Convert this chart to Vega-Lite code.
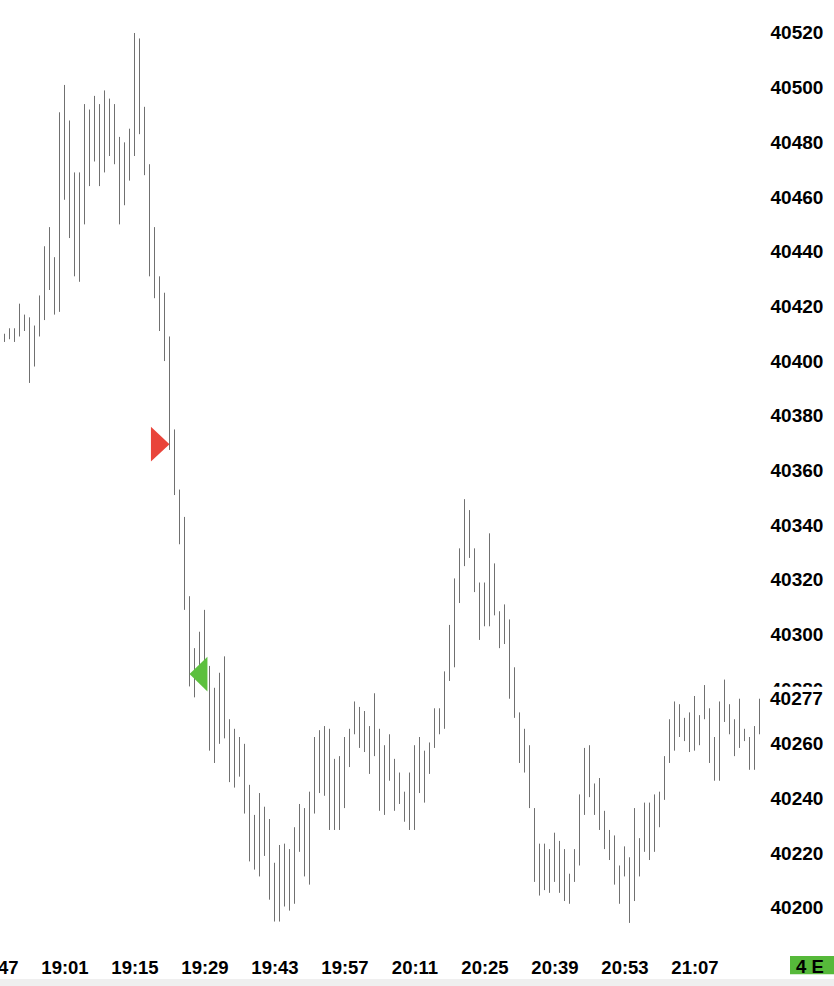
{
  "$schema": "https://vega.github.io/schema/vega-lite/v6.json",
  "width": 765,
  "height": 940,
  "autosize": "none",
  "padding": {"left": 0, "top": 0, "right": 69, "bottom": 46},
  "background": "#ffffff",
  "config": {
    "view": {"stroke": null},
    "axis": {"grid": false, "domain": false, "ticks": false, "tickSize": 0, "labelFont": "Liberation Sans", "labelFontWeight": "bold", "labelColor": "#000000", "zindex": 0}
  },
  "datasets": {
    "bars": [
      {"t":"18:49","l":40407,"h":40410},{"t":"18:50","l":40408,"h":40412},{"t":"18:51","l":40407,"h":40412},{"t":"18:52","l":40409,"h":40421},
      {"t":"18:53","l":40411,"h":40417},{"t":"18:54","l":40392,"h":40416},{"t":"18:55","l":40398,"h":40413},{"t":"18:56","l":40409,"h":40424},
      {"t":"18:57","l":40415,"h":40442},{"t":"18:58","l":40426,"h":40449},{"t":"18:59","l":40417,"h":40438},{"t":"19:00","l":40418,"h":40491},
      {"t":"19:01","l":40459,"h":40501},{"t":"19:02","l":40445,"h":40488},{"t":"19:03","l":40431,"h":40469},{"t":"19:04","l":40429,"h":40469},
      {"t":"19:05","l":40450,"h":40494},{"t":"19:06","l":40464,"h":40492},{"t":"19:07","l":40473,"h":40497},{"t":"19:08","l":40464,"h":40494},
      {"t":"19:09","l":40469,"h":40499},{"t":"19:10","l":40475,"h":40496},{"t":"19:11","l":40472,"h":40494},{"t":"19:12","l":40450,"h":40482},
      {"t":"19:13","l":40457,"h":40480},{"t":"19:14","l":40466,"h":40485},{"t":"19:15","l":40475,"h":40520},{"t":"19:16","l":40483,"h":40518},
      {"t":"19:17","l":40468,"h":40493},{"t":"19:18","l":40431,"h":40472},{"t":"19:19","l":40423,"h":40449},{"t":"19:20","l":40411,"h":40431},
      {"t":"19:21","l":40400,"h":40425},{"t":"19:22","l":40367.5,"h":40409},{"t":"19:23","l":40351,"h":40375},{"t":"19:24","l":40333,"h":40353},
      {"t":"19:25","l":40309,"h":40343},{"t":"19:26","l":40281,"h":40314},{"t":"19:27","l":40277,"h":40295},{"t":"19:28","l":40283,"h":40301},
      {"t":"19:29","l":40281,"h":40309},{"t":"19:30","l":40257.5,"h":40288.5},{"t":"19:31","l":40253,"h":40280.5},{"t":"19:32","l":40260,"h":40286},
      {"t":"19:33","l":40262,"h":40292},{"t":"19:34","l":40246,"h":40269},{"t":"19:35","l":40244,"h":40265.5},{"t":"19:36","l":40248,"h":40262.5},
      {"t":"19:37","l":40234.5,"h":40260},{"t":"19:38","l":40217,"h":40245},{"t":"19:39","l":40214,"h":40234},{"t":"19:40","l":40211.5,"h":40242},
      {"t":"19:41","l":40219,"h":40237},{"t":"19:42","l":40203,"h":40232.5},{"t":"19:43","l":40195,"h":40216.5},{"t":"19:44","l":40195,"h":40223},
      {"t":"19:45","l":40200.5,"h":40223.5},{"t":"19:46","l":40199,"h":40221.5},{"t":"19:47","l":40201.5,"h":40229.5},{"t":"19:48","l":40220.5,"h":40238},
      {"t":"19:49","l":40211.5,"h":40236.5},{"t":"19:50","l":40208.5,"h":40242.5},{"t":"19:51","l":40234.5,"h":40262.5},{"t":"19:52","l":40242,"h":40265},
      {"t":"19:53","l":40241,"h":40266.5},{"t":"19:54","l":40228.5,"h":40265.5},{"t":"19:55","l":40228.5,"h":40254.5},{"t":"19:56","l":40228.5,"h":40255.5},
      {"t":"19:57","l":40236.5,"h":40262.5},{"t":"19:58","l":40251.5,"h":40265.5},{"t":"19:59","l":40263.5,"h":40275.5},{"t":"20:00","l":40258.5,"h":40273.5},
      {"t":"20:01","l":40257,"h":40272},{"t":"20:02","l":40249,"h":40266.5},{"t":"20:03","l":40255.5,"h":40278.5},{"t":"20:04","l":40235.5,"h":40265.5},
      {"t":"20:05","l":40234,"h":40259.5},{"t":"20:06","l":40246.5,"h":40263.5},{"t":"20:07","l":40235.5,"h":40254.5},{"t":"20:08","l":40238,"h":40249.5},
      {"t":"20:09","l":40231.5,"h":40242.5},{"t":"20:10","l":40228.5,"h":40249.5},{"t":"20:11","l":40228.5,"h":40259.5},{"t":"20:12","l":40242,"h":40262.5},
      {"t":"20:13","l":40238.5,"h":40257.5},{"t":"20:14","l":40249,"h":40260.5},{"t":"20:15","l":40258.5,"h":40273},{"t":"20:16","l":40263.5,"h":40273},
      {"t":"20:17","l":40265.5,"h":40286.5},{"t":"20:18","l":40283,"h":40303.5},{"t":"20:19","l":40288,"h":40320.5},{"t":"20:20","l":40311.5,"h":40331.5},
      {"t":"20:21","l":40325,"h":40349.5},{"t":"20:22","l":40328,"h":40345.5},{"t":"20:23","l":40315.5,"h":40331.5},{"t":"20:24","l":40298,"h":40319},
      {"t":"20:25","l":40303,"h":40319},{"t":"20:26","l":40303,"h":40337},{"t":"20:27","l":40307,"h":40326},{"t":"20:28","l":40295,"h":40308.5},
      {"t":"20:29","l":40296.5,"h":40311},{"t":"20:30","l":40276.5,"h":40305.5},{"t":"20:31","l":40269.5,"h":40288},{"t":"20:32","l":40253,"h":40271.5},
      {"t":"20:33","l":40249.5,"h":40265.5},{"t":"20:34","l":40236.5,"h":40259.5},{"t":"20:35","l":40209.5,"h":40236.5},{"t":"20:36","l":40204.5,"h":40223.5},
      {"t":"20:37","l":40206.5,"h":40223.5},{"t":"20:38","l":40205.5,"h":40221.5},{"t":"20:39","l":40209.5,"h":40227.5},{"t":"20:40","l":40205.5,"h":40224.5},
      {"t":"20:41","l":40202.5,"h":40221.5},{"t":"20:42","l":40201.5,"h":40212.5},{"t":"20:43","l":40209.5,"h":40221.5},{"t":"20:44","l":40215.5,"h":40241.5},
      {"t":"20:45","l":40234,"h":40258.5},{"t":"20:46","l":40240.5,"h":40259.5},{"t":"20:47","l":40234,"h":40245.5},{"t":"20:48","l":40228.5,"h":40247.5},
      {"t":"20:49","l":40221.5,"h":40235.5},{"t":"20:50","l":40217.5,"h":40228.5},{"t":"20:51","l":40208.5,"h":40226.5},{"t":"20:52","l":40201.5,"h":40215.5},
      {"t":"20:53","l":40211.5,"h":40222.5},{"t":"20:54","l":40194.5,"h":40218.5},{"t":"20:55","l":40202.5,"h":40236.5},{"t":"20:56","l":40211.5,"h":40225.5},
      {"t":"20:57","l":40220.5,"h":40238.5},{"t":"20:58","l":40217.5,"h":40238.5},{"t":"20:59","l":40220.5,"h":40241.5},{"t":"21:00","l":40229.5,"h":40242.5},
      {"t":"21:01","l":40239.5,"h":40255.5},{"t":"21:02","l":40253,"h":40269},{"t":"21:03","l":40257.5,"h":40275.5},{"t":"21:04","l":40262.5,"h":40274.5},
      {"t":"21:05","l":40261,"h":40269.5},{"t":"21:06","l":40257,"h":40271.5},{"t":"21:07","l":40257.5,"h":40277.5},{"t":"21:08","l":40259.5,"h":40270.5},
      {"t":"21:09","l":40269,"h":40281.5},{"t":"21:10","l":40253,"h":40273},{"t":"21:11","l":40246.5,"h":40262.5},{"t":"21:12","l":40246.5,"h":40275.5},
      {"t":"21:13","l":40268,"h":40283.5},{"t":"21:14","l":40263.5,"h":40274.5},{"t":"21:15","l":40255.5,"h":40269},{"t":"21:16","l":40258.5,"h":40276.5},
      {"t":"21:17","l":40261,"h":40265.5},{"t":"21:18","l":40250.5,"h":40262.5},{"t":"21:19","l":40250.5,"h":40266.5},{"t":"21:20","l":40263.5,"h":40276.5}
    ]
  },
  "layer": [
    {
      "data": {"name": "bars", "format": {"parse": {"t": "date:'%H:%M'"}}},
      "mark": {"type": "rule", "color": "#707070", "strokeWidth": 1},
      "encoding": {
        "x": {
          "field": "t", "type": "temporal",
          "scale": {
            "domain": [
              {"year": 1900, "month": 1, "date": 1, "hours": 18, "minutes": 47},
              {"year": 1900, "month": 1, "date": 1, "hours": 21, "minutes": 21, "seconds": 6}
            ],
            "range": [-5.5, 765]
          },
          "axis": {
            "orient": "bottom", "title": null, "format": "%H:%M",
            "values": [
              {"year": 1900, "month": 1, "date": 1, "hours": 18, "minutes": 47},
              {"year": 1900, "month": 1, "date": 1, "hours": 19, "minutes": 1},
              {"year": 1900, "month": 1, "date": 1, "hours": 19, "minutes": 15},
              {"year": 1900, "month": 1, "date": 1, "hours": 19, "minutes": 29},
              {"year": 1900, "month": 1, "date": 1, "hours": 19, "minutes": 43},
              {"year": 1900, "month": 1, "date": 1, "hours": 19, "minutes": 57},
              {"year": 1900, "month": 1, "date": 1, "hours": 20, "minutes": 11},
              {"year": 1900, "month": 1, "date": 1, "hours": 20, "minutes": 25},
              {"year": 1900, "month": 1, "date": 1, "hours": 20, "minutes": 39},
              {"year": 1900, "month": 1, "date": 1, "hours": 20, "minutes": 53},
              {"year": 1900, "month": 1, "date": 1, "hours": 21, "minutes": 7}
            ],
            "labelFontSize": 18.5, "labelPadding": 18.5, "labelFlush": false, "labelOverlap": false
          }
        },
        "y": {
          "field": "l", "type": "quantitative",
          "scale": {"domain": [40188.25, 40532.07], "nice": false, "zero": false},
          "axis": {
            "orient": "right", "title": null, "format": "d",
            "values": [40200, 40220, 40240, 40260, 40280, 40300, 40320, 40340, 40360, 40380, 40400, 40420, 40440, 40460, 40480, 40500, 40520],
            "labelFontSize": 19, "labelPadding": 5, "labelOverlap": false
          }
        },
        "y2": {"field": "h"}
      }
    },
    {
      "data": {"values": [
        {"t":"19:22","p":40369.6,"side":"sell"},
        {"t":"19:26","p":40285.5,"side":"buy"}
      ], "format": {"parse": {"t": "date:'%H:%M'"}}},
      "mark": {"type": "point", "filled": true, "opacity": 1, "strokeWidth": 0, "size": 1215},
      "encoding": {
        "x": {"field": "t", "type": "temporal"},
        "y": {"field": "p", "type": "quantitative"},
        "shape": {"field": "side", "type": "nominal", "legend": null,
          "scale": {"domain": ["sell", "buy"], "range": ["M-1.066,-1L0,0L-1.066,1Z", "M1.03,-1L0,0L1.03,1Z"]}},
        "color": {"field": "side", "type": "nominal", "legend": null,
          "scale": {"domain": ["sell", "buy"], "range": ["#e9443a", "#5cc03e"]}}
      }
    },
    {
      "data": {"values": [{"lt":"21:20","lp":40277,"kind":"box"}], "format": {"parse": {"lt": "date:'%H:%M'"}}},
      "mark": {"type": "point", "filled": true, "opacity": 1, "strokeWidth": 0, "fill": "#ffffff", "size": 3600, "xOffset": 37.5, "shape": "M-1,-0.35L1,-0.35L1,0.35L-1,0.35Z"},
      "encoding": {
        "x": {"field": "lt", "type": "temporal"},
        "y": {"field": "lp", "type": "quantitative"}
      }
    },
    {
      "data": {"values": [{"tt":"21:20","tp":40277}], "format": {"parse": {"tt": "date:'%H:%M'"}}},
      "mark": {"type": "text", "align": "left", "baseline": "middle", "dx": 10.5, "dy": 1.5, "font": "Liberation Sans", "fontWeight": "bold", "fontSize": 19, "fill": "#000000"},
      "encoding": {
        "x": {"field": "tt", "type": "temporal"},
        "y": {"field": "tp", "type": "quantitative"},
        "text": {"field": "tp", "type": "quantitative", "format": "d"}
      }
    },
    {
      "data": {"values": [{"st":"21:20","s":"4 E"}], "format": {"parse": {"st": "date:'%H:%M'"}}},
      "mark": {"type": "point", "filled": true, "opacity": 1, "strokeWidth": 0, "fill": "#56b93a", "size": 1936, "xOffset": 52.5, "yOffset": 25.2, "shape": "M-1,-0.416L1,-0.416L1,0.416L-1,0.416Z"},
      "encoding": {
        "x": {"field": "st", "type": "temporal"},
        "y": {"value": {"expr": "height"}}
      }
    },
    {
      "data": {"values": [{"ut":"21:20","u":"4 E"}], "format": {"parse": {"ut": "date:'%H:%M'"}}},
      "mark": {"type": "text", "align": "center", "baseline": "alphabetic", "dx": 50.5, "dy": 33.3, "font": "Liberation Sans", "fontWeight": "bold", "fontSize": 18.5, "fill": "#000000"},
      "encoding": {
        "x": {"field": "ut", "type": "temporal"},
        "y": {"value": {"expr": "height"}},
        "text": {"field": "u", "type": "nominal"}
      }
    },
    {
      "data": {"values": [{"t0":"18:40","t1":"21:40"}], "format": {"parse": {"t0": "date:'%H:%M'", "t1": "date:'%H:%M'"}}},
      "mark": {"type": "rule", "color": "#efefef", "strokeWidth": 7},
      "encoding": {
        "x": {"field": "t0", "type": "temporal"},
        "x2": {"field": "t1"},
        "y": {"value": {"expr": "height + 42.5"}}
      }
    }
  ]
}
